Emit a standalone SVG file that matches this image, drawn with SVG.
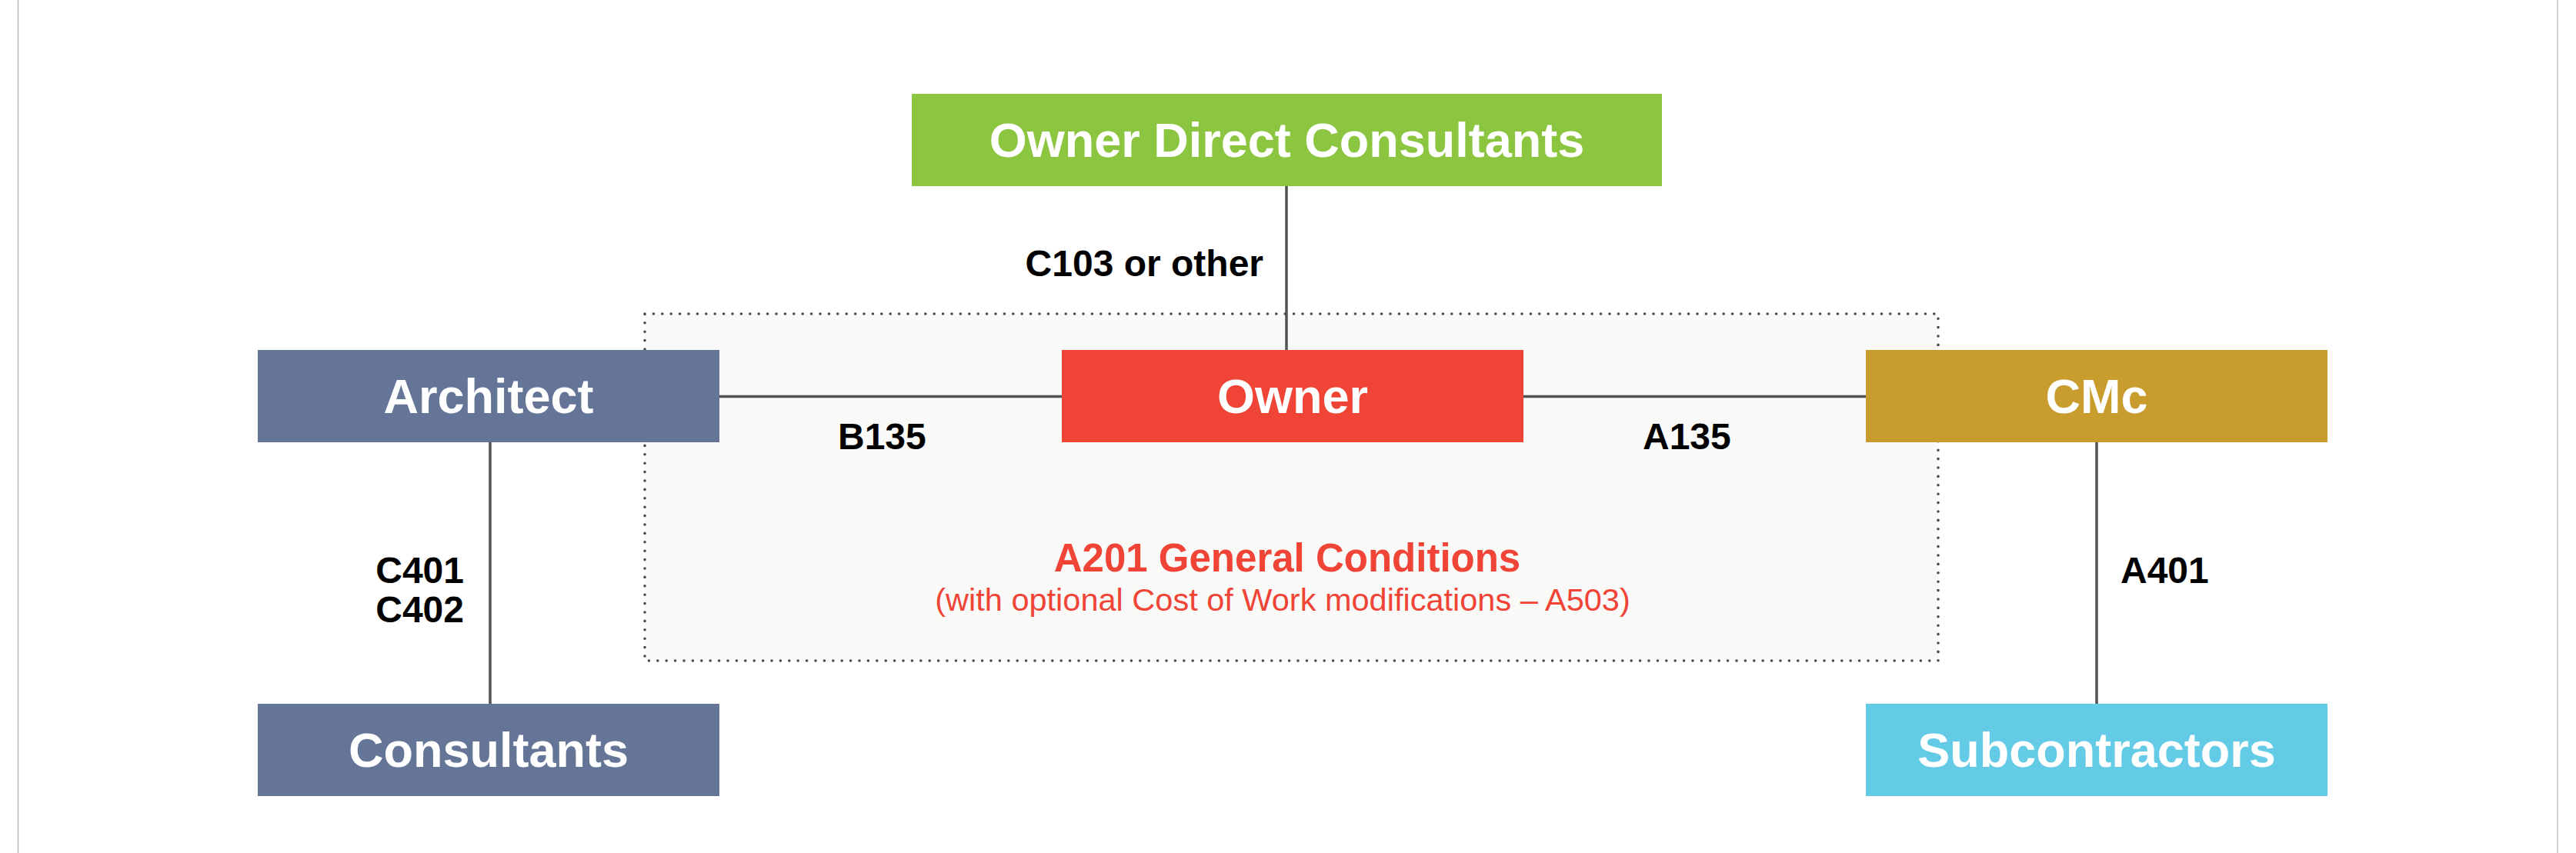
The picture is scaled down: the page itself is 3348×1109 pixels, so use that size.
<svg xmlns="http://www.w3.org/2000/svg" width="3348" height="1109" viewBox="0 0 3348 1109">
<style>
.box-t{font-family:"Liberation Sans",Arial,sans-serif;font-weight:bold;font-size:63px;fill:#ffffff;text-anchor:middle}
.lbl{font-family:"Liberation Sans",Arial,sans-serif;font-weight:bold;font-size:48px;fill:#000000}
.conn{stroke:#525252;stroke-width:3.5;fill:none}
</style>
<rect x="0" y="0" width="3348" height="1109" fill="#ffffff"/>
<line x1="23.5" y1="0" x2="23.5" y2="1109" stroke="#b8b8b8" stroke-width="1.5"/>
<line x1="3324" y1="0" x2="3324" y2="1109" stroke="#cfcfcf" stroke-width="2"/>
<g id="scope">
<rect x="838" y="408" width="1681" height="451" fill="#f9f9f8" stroke="#4a4a4a" stroke-width="3.6" stroke-dasharray="0 11.4" stroke-linecap="round"/>
<text x="1673" y="743" font-family="Liberation Sans, Arial, sans-serif" font-weight="bold" font-size="51" fill="#ef4436" text-anchor="middle">A201 General Conditions</text>
<text x="1667" y="794" font-family="Liberation Sans, Arial, sans-serif" font-size="41.5" fill="#ef4436" text-anchor="middle">(with optional Cost of Work modifications – A503)</text>
</g>
<g id="connectors">
<line class="conn" x1="1672" y1="242" x2="1672" y2="455"/>
<line class="conn" x1="935" y1="515.5" x2="1380" y2="515.5"/>
<line class="conn" x1="1980" y1="515.5" x2="2425" y2="515.5"/>
<line class="conn" x1="637" y1="575" x2="637" y2="915"/>
<line class="conn" x1="2725" y1="575" x2="2725" y2="915"/>
<text class="lbl" x="1642" y="359" text-anchor="end">C103 or other</text>
<text class="lbl" x="1089" y="584">B135</text>
<text class="lbl" x="2135" y="584">A135</text>
<text class="lbl" x="603" y="758" text-anchor="end">C401</text>
<text class="lbl" x="603" y="809" text-anchor="end">C402</text>
<text class="lbl" x="2756" y="758">A401</text>
</g>
<g id="owner-direct-consultants">
<rect x="1185" y="122" width="975" height="120" fill="#8cc640"/>
<text class="box-t" x="1672.5" y="204">Owner Direct Consultants</text>
</g>
<g id="architect">
<rect x="335" y="455" width="600" height="120" fill="#657597"/>
<text class="box-t" x="635" y="537">Architect</text>
</g>
<g id="owner">
<rect x="1380" y="455" width="600" height="120" fill="#ef4436"/>
<text class="box-t" x="1680" y="537">Owner</text>
</g>
<g id="cmc">
<rect x="2425" y="455" width="600" height="120" fill="#c99c2e"/>
<text class="box-t" x="2725" y="537">CMc</text>
</g>
<g id="consultants">
<rect x="335" y="915" width="600" height="120" fill="#657597"/>
<text class="box-t" x="635" y="997">Consultants</text>
</g>
<g id="subcontractors">
<rect x="2425" y="915" width="600" height="120" fill="#63cbe6"/>
<text class="box-t" x="2725" y="997">Subcontractors</text>
</g>
</svg>
